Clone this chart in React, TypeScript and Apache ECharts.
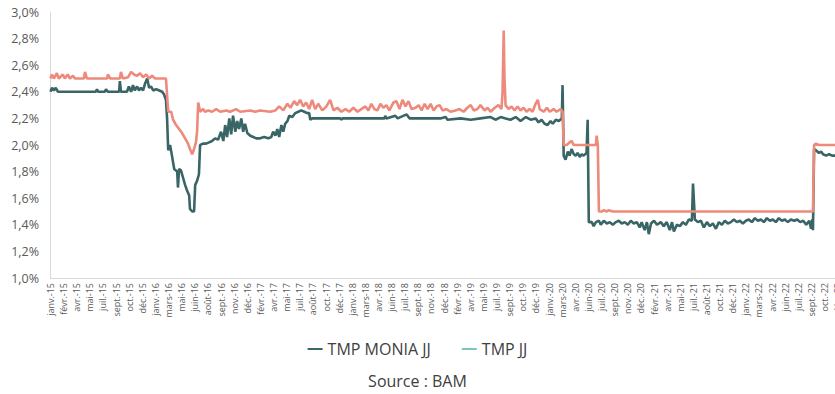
import React, { useEffect, useRef } from "react";
import * as echarts from "echarts";

const tickLabels = [
  "janv.-15", "févr.-15", "avr.-15", "mai-15", "juil.-15", "sept.-15", "oct.-15", "déc.-15",
  "janv.-16", "mars-16", "mai-16", "juin-16", "août-16", "sept.-16", "nov.-16", "déc.-16",
  "févr.-17", "avr.-17", "mai-17", "juil.-17", "août-17", "oct.-17", "déc.-17",
  "janv.-18", "mars-18", "avr.-18", "juin-18", "juil.-18", "sept.-18", "nov.-18", "déc.-18",
  "févr.-19", "avr.-19", "mai-19", "juil.-19", "sept.-19", "oct.-19", "déc.-19",
  "janv.-20", "mars-20", "avr.-20", "juin-20", "juil.-20", "sept.-20", "nov.-20", "déc.-20",
  "févr.-21", "avr.-21", "mai-21", "juil.-21", "août-21", "oct.-21", "déc.-21",
  "janv.-22", "mars-22", "avr.-22", "juin-22", "juil.-22", "sept.-22", "oct.-22", "déc.-22",
];

// trading days per tick label
const DAYS_PER_LABEL = 35;

// [trading-day index, rate %]
const tmpMoniaJJ: [number, number][] = [
  [0,2.40],[1,2.40],[4,2.43],[9,2.41],[14,2.43],[20,2.40],[121,2.40],[124,2.42],[127,2.40],[145,2.40],[148,2.42],[153,2.40],
  [183,2.40],[185,2.48],[188,2.40],[204,2.40],[209,2.44],[215,2.40],[220,2.45],[225,2.41],[231,2.44],[236,2.41],[241,2.43],
  [247,2.41],[252,2.46],[258,2.50],[263,2.43],[268,2.44],[274,2.41],[282,2.42],[290,2.41],[298,2.40],[303,2.38],[308,2.34],
  [311,2.20],[314,1.96],[319,2.00],[324,1.92],[330,1.82],[338,1.80],[340,1.68],[343,1.82],[348,1.81],[354,1.75],[359,1.70],
  [364,1.66],[370,1.62],[372,1.52],[378,1.50],[383,1.50],[386,1.70],[391,1.73],[396,1.78],[399,2.00],[407,2.01],[415,2.01],
  [423,2.02],[431,2.03],[439,2.05],[447,2.04],[455,2.10],[461,2.03],[466,2.15],[471,2.06],[477,2.20],[482,2.08],[487,2.22],
  [493,2.10],[498,2.18],[503,2.12],[509,2.20],[514,2.10],[519,2.16],[525,2.09],[533,2.07],[541,2.06],[549,2.05],[559,2.05],
  [570,2.06],[581,2.05],[589,2.06],[594,2.10],[600,2.07],[605,2.12],[610,2.06],[616,2.15],[621,2.10],[626,2.16],[632,2.18],
  [637,2.22],[645,2.21],[653,2.24],[661,2.25],[669,2.26],[677,2.25],[685,2.24],[690,2.24],[693,2.19],[698,2.20],[773,2.20],
  [776,2.19],[779,2.20],[891,2.20],[893,2.22],[896,2.20],[920,2.22],[926,2.20],[950,2.23],[958,2.20],[1040,2.20],[1054,2.21],
  [1059,2.19],[1094,2.20],[1121,2.19],[1147,2.20],[1174,2.21],[1187,2.19],[1201,2.21],[1214,2.20],[1227,2.19],[1241,2.21],
  [1254,2.18],[1268,2.21],[1281,2.19],[1294,2.20],[1302,2.17],[1310,2.19],[1318,2.16],[1326,2.15],[1334,2.18],[1340,2.16],
  [1348,2.19],[1356,2.18],[1364,2.20],[1366,2.45],[1369,1.92],[1374,1.89],[1380,1.95],[1385,1.92],[1390,1.97],[1396,1.93],
  [1401,1.92],[1406,1.94],[1412,1.91],[1417,1.93],[1422,1.92],[1430,1.94],[1433,2.19],[1436,1.42],[1444,1.42],[1449,1.39],
  [1455,1.42],[1463,1.43],[1468,1.40],[1476,1.43],[1484,1.41],[1492,1.42],[1500,1.40],[1508,1.42],[1516,1.43],[1524,1.41],
  [1532,1.42],[1540,1.40],[1548,1.43],[1556,1.41],[1564,1.42],[1572,1.38],[1577,1.42],[1585,1.36],[1591,1.42],[1596,1.33],
  [1602,1.41],[1610,1.43],[1618,1.40],[1628,1.42],[1636,1.39],[1644,1.42],[1652,1.36],[1658,1.42],[1663,1.35],[1671,1.40],
  [1679,1.39],[1687,1.42],[1695,1.40],[1703,1.44],[1711,1.43],[1714,1.71],[1719,1.44],[1727,1.42],[1735,1.43],[1743,1.38],
  [1751,1.42],[1759,1.39],[1767,1.41],[1775,1.37],[1783,1.42],[1791,1.40],[1799,1.43],[1807,1.41],[1815,1.42],[1823,1.44],
  [1831,1.42],[1839,1.43],[1847,1.41],[1855,1.43],[1863,1.44],[1871,1.42],[1879,1.45],[1887,1.43],[1895,1.44],[1903,1.42],
  [1911,1.45],[1919,1.43],[1927,1.44],[1935,1.42],[1943,1.45],[1951,1.43],[1959,1.44],[1967,1.42],[1975,1.44],[1984,1.43],
  [1992,1.44],[2000,1.42],[2008,1.43],[2016,1.40],[2024,1.43],[2029,1.37],[2032,1.44],[2034,1.36],[2037,1.97],[2042,1.96],
  [2050,1.94],[2056,1.95],[2061,1.93],[2069,1.92],[2077,1.93],[2085,1.92],[2109,1.92],
];

const tmpJJ: [number, number][] = [
  [0,2.50],[4,2.53],[9,2.50],[17,2.54],[22,2.50],[33,2.53],[38,2.50],[46,2.53],[52,2.50],[60,2.52],[65,2.50],[89,2.50],
  [92,2.55],[97,2.50],[151,2.50],[153,2.53],[159,2.50],[185,2.50],[188,2.55],[193,2.50],[207,2.51],[215,2.55],[223,2.53],
  [231,2.52],[239,2.54],[247,2.51],[255,2.53],[263,2.50],[271,2.52],[279,2.50],[308,2.50],[314,2.25],[322,2.25],[327,2.19],
  [335,2.15],[343,2.12],[351,2.09],[359,2.05],[367,2.01],[372,1.97],[378,1.93],[383,1.97],[388,2.02],[391,2.10],[394,2.32],
  [399,2.25],[407,2.27],[412,2.25],[421,2.26],[431,2.25],[442,2.27],[453,2.25],[469,2.26],[479,2.25],[495,2.27],[506,2.25],
  [533,2.26],[546,2.25],[559,2.26],[586,2.25],[600,2.26],[610,2.29],[621,2.26],[632,2.31],[640,2.28],[650,2.33],[658,2.30],
  [666,2.34],[674,2.29],[682,2.32],[690,2.27],[698,2.34],[706,2.27],[714,2.31],[725,2.26],[736,2.29],[746,2.34],[755,2.26],
  [765,2.28],[776,2.25],[787,2.27],[797,2.25],[808,2.28],[819,2.25],[829,2.27],[840,2.29],[848,2.26],[856,2.31],[864,2.27],
  [872,2.26],[880,2.31],[888,2.28],[896,2.30],[904,2.26],[915,2.32],[923,2.33],[931,2.27],[939,2.34],[947,2.29],[955,2.33],
  [963,2.27],[974,2.28],[982,2.30],[990,2.26],[998,2.31],[1006,2.27],[1014,2.31],[1022,2.26],[1030,2.29],[1038,2.30],
  [1046,2.26],[1056,2.27],[1067,2.25],[1080,2.26],[1091,2.27],[1102,2.25],[1112,2.28],[1121,2.30],[1129,2.26],[1139,2.27],
  [1147,2.30],[1158,2.26],[1166,2.28],[1174,2.25],[1185,2.28],[1195,2.30],[1203,2.27],[1206,2.40],[1209,2.86],[1211,2.50],
  [1214,2.30],[1222,2.27],[1230,2.29],[1238,2.26],[1246,2.29],[1254,2.26],[1262,2.28],[1270,2.25],[1278,2.27],[1286,2.25],
  [1294,2.31],[1300,2.34],[1305,2.27],[1316,2.25],[1324,2.28],[1332,2.25],[1342,2.27],[1350,2.25],[1361,2.27],[1366,2.25],
  [1369,2.00],[1377,2.00],[1385,2.02],[1390,2.03],[1396,2.00],[1455,2.00],[1457,2.07],[1460,2.00],[1463,1.50],[1471,1.50],
  [1476,1.51],[1484,1.50],[1489,1.51],[1500,1.50],[2034,1.50],[2037,2.00],[2042,2.01],[2050,2.00],[2109,2.00],
];

const seriesNames = ["TMP MONIA JJ", "TMP JJ"];

export default function App() {
  const ref = useRef<HTMLDivElement>(null);
  useEffect(() => {
    if (!ref.current) return;
    const chart = echarts.init(ref.current, null, { renderer: "svg" });
    const font = "'Open Sans', sans-serif";
    const n = tickLabels.length;
    chart.setOption({
      animation: false,
      backgroundColor: "#ffffff",
      grid: {
        left: 50.5,
        top: 12,
        bottom: 116,
        width: 13.12 * n,
        containLabel: false,
        outerBoundsMode: "none",
      },
      xAxis: {
        type: "value",
        min: 0,
        max: DAYS_PER_LABEL * n,
        interval: DAYS_PER_LABEL,
        axisLine: { show: true, lineStyle: { color: "#d9d9d9", width: 1 } },
        axisTick: { show: false },
        splitLine: { show: false },
        axisLabel: {
          rotate: 90,
          margin: 5,
          fontSize: 9,
          color: "#595959",
          fontFamily: font,
          showMaxLabel: false,
          formatter: (v: number) => {
            const i = Math.round(v / DAYS_PER_LABEL);
            return tickLabels[i] ?? "";
          },
        },
      },
      yAxis: {
        type: "value",
        min: 1.0,
        max: 3.0,
        interval: 0.2,
        offset: 2.5,
        axisLine: { show: true, lineStyle: { color: "#d9d9d9", width: 1 } },
        axisTick: { show: false },
        splitLine: { show: false },
        axisLabel: {
          margin: 9,
          fontSize: 12.5,
          color: "#595959",
          fontFamily: font,
          formatter: (v: number) => v.toFixed(1).replace(".", ",") + "%",
        },
      },
      legend: {
        top: 336,
        left: "center",
        icon: "rect",
        itemWidth: 15,
        itemHeight: 2,
        itemGap: 31,
        textStyle: { fontSize: 16, color: "#404040", fontFamily: font },
        data: [
          { name: seriesNames[0], itemStyle: { color: "#3b6868" } },
          { name: seriesNames[1], itemStyle: { color: "#7ec4c4" } },
        ],
      },
      graphic: [
        {
          type: "text",
          left: "center",
          top: 373,
          style: { text: "Source : BAM", fontSize: 16, fill: "#404040", fontFamily: font },
        },
      ],
      series: [
        {
          name: seriesNames[0],
          type: "line",
          data: tmpMoniaJJ,
          showSymbol: false,
          lineStyle: { color: "#3a6566", width: 2.6 },
          itemStyle: { color: "#3a6566" },
        },
        {
          name: seriesNames[1],
          type: "line",
          data: tmpJJ,
          showSymbol: false,
          lineStyle: { color: "#ee8a7b", width: 2.6 },
          itemStyle: { color: "#ee8a7b" },
        },
      ],
    });
    return () => chart.dispose();
  }, []);
  return (
    <div
      ref={ref}
      style={{ position: "fixed", left: 0, top: 0, width: 835, height: 394, background: "#fff" }}
    />
  );
}
